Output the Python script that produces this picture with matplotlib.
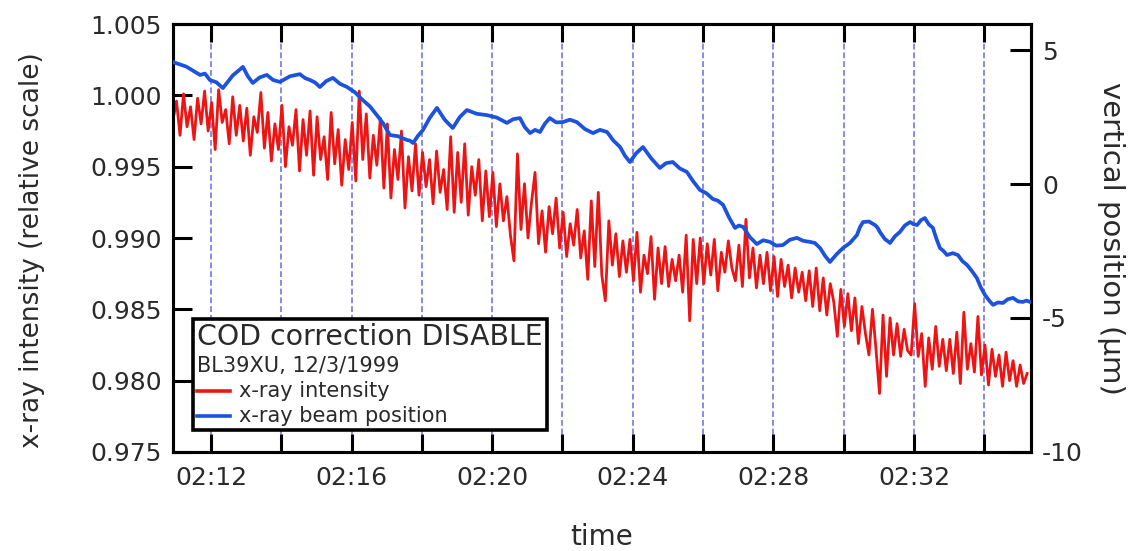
import numpy as np
import matplotlib
matplotlib.use("Agg")
import matplotlib.pyplot as plt
from matplotlib.lines import Line2D
from matplotlib.offsetbox import AnchoredOffsetbox, VPacker, HPacker, TextArea, DrawingArea

plt.rcParams['font.family'] = ['DejaVu Sans']
plt.rcParams['axes.unicode_minus'] = False

# x-ray intensity, sampled every 0.1 min starting at 02:10.92
red_start_min = 10.92
red_step_min = 0.1
red_intensity = [
    0.9983, 0.9996, 0.9972, 1.0001, 0.9978, 0.9992, 0.9969, 0.9998, 0.9980, 1.0003,
    0.9975, 0.9995, 0.9962, 1.0004, 0.9981, 0.9990, 0.9966, 0.9999, 0.9972, 0.9993,
    0.9968, 0.9991, 0.9958, 0.9985, 0.9974, 1.0002, 0.9963, 0.9988, 0.9954, 0.9980,
    0.9962, 0.9993, 0.9950, 0.9978, 0.9965, 0.9990, 0.9947, 0.9983, 0.9958, 0.9989,
    0.9944, 0.9985, 0.9955, 0.9971, 0.9941, 0.9988, 0.9952, 0.9976, 0.9937, 0.9969,
    0.9948, 0.9981, 0.9940, 1.0003, 0.9955, 0.9987, 0.9942, 0.9972, 0.9951, 0.9984,
    0.9935, 0.9980, 0.9928, 0.9962, 0.9941, 0.9975, 0.9921, 0.9957, 0.9933, 0.9966,
    0.9930, 0.9960, 0.9936, 0.9955, 0.9924, 0.9961, 0.9932, 0.9948, 0.9920, 0.9971,
    0.9918, 0.9960, 0.9925, 0.9966, 0.9916, 0.9950, 0.9930, 0.9955, 0.9912, 0.9947,
    0.9915, 0.9946, 0.9908, 0.9938, 0.9912, 0.9929, 0.9902, 0.9884, 0.9959, 0.9906,
    0.9938, 0.9900, 0.9925, 0.9946, 0.9896, 0.9919, 0.9890, 0.9922, 0.9903, 0.9928,
    0.9893, 0.9918, 0.9887, 0.9910, 0.9895, 0.9920, 0.9886, 0.9905, 0.9871, 0.9926,
    0.9880, 0.9932, 0.9874, 0.9856, 0.9912, 0.9881, 0.9903, 0.9873, 0.9898, 0.9876,
    0.9899, 0.9870, 0.9904, 0.9862, 0.9888, 0.9875, 0.9901, 0.9857, 0.9893, 0.9868,
    0.9894, 0.9866, 0.9885, 0.9870, 0.9888, 0.9862, 0.9902, 0.9842, 0.9899, 0.9868,
    0.9900, 0.9868, 0.9896, 0.9874, 0.9899, 0.9863, 0.9890, 0.9876, 0.9898, 0.9879,
    0.9870, 0.9895, 0.9866, 0.9913, 0.9872, 0.9893, 0.9865, 0.9888, 0.9868, 0.9890,
    0.9863, 0.9887, 0.9859, 0.9885, 0.9866, 0.9881, 0.9858, 0.9879, 0.9862, 0.9876,
    0.9856, 0.9877, 0.9852, 0.9879, 0.9849, 0.9872, 0.9846, 0.9868, 0.9855, 0.9831,
    0.9864, 0.9838, 0.9861, 0.9835, 0.9858, 0.9826, 0.9852, 0.9833, 0.9818, 0.9850,
    0.9822, 0.9791, 0.9846, 0.9803, 0.9844, 0.9818, 0.9840, 0.9817, 0.9836, 0.9821,
    0.9818, 0.9854, 0.9817, 0.9833, 0.9796, 0.9830, 0.9808, 0.9838, 0.9810, 0.9829,
    0.9807, 0.9829, 0.9805, 0.9834, 0.9798, 0.9848, 0.9808, 0.9826, 0.9806, 0.9845,
    0.9804, 0.9825, 0.9797, 0.9822, 0.9803, 0.9818, 0.9796, 0.9820, 0.9800, 0.9814,
    0.9796, 0.9811, 0.9798, 0.9805,
]

# x-ray beam vertical position (um), minutes after 02:00
blue_minutes = [
    10.92, 11.30, 11.69, 11.83, 11.97, 12.15, 12.34, 12.62, 12.91, 13.05,
    13.19, 13.39, 13.59, 13.77, 13.96, 14.25, 14.53, 14.68, 14.82, 14.96,
    15.10, 15.28, 15.47, 15.67, 15.87, 16.10, 16.32, 16.52, 16.72, 16.90,
    17.09, 17.33, 17.58, 17.66, 17.75, 17.89, 18.03, 18.23, 18.43, 18.65,
    18.88, 19.08, 19.28, 19.56, 19.85, 20.13, 20.42, 20.60, 20.79, 20.93,
    21.08, 21.22, 21.36, 21.50, 21.64, 21.82, 22.01, 22.21, 22.41, 22.64,
    22.87, 23.07, 23.27, 23.45, 23.64, 23.78, 23.92, 24.10, 24.29, 24.53,
    24.77, 24.95, 25.14, 25.34, 25.54, 25.72, 25.91, 26.10, 26.28, 26.42,
    26.57, 26.74, 26.91, 27.02, 27.14, 27.33, 27.53, 27.71, 27.90, 28.08,
    28.27, 28.47, 28.67, 28.85, 29.04, 29.18, 29.33, 29.47, 29.61, 29.80,
    29.98, 30.18, 30.38, 30.46, 30.55, 30.72, 30.89, 30.96, 31.03, 31.17,
    31.32, 31.46, 31.60, 31.74, 31.89, 31.99, 32.09, 32.20, 32.31, 32.42,
    32.54, 32.64, 32.74, 32.84, 32.94, 33.10, 33.25, 33.38, 33.51, 33.65,
    33.79, 33.90, 34.02, 34.14, 34.25, 34.39, 34.53, 34.67, 34.82, 34.96,
    35.10, 35.20, 35.30,
]
blue_position = [
    4.55, 4.38, 4.07, 4.12, 3.88, 3.80, 3.58, 4.05, 4.37, 4.02,
    3.77, 3.98, 4.07, 3.88, 3.81, 4.02, 4.10, 3.95, 3.88, 3.79,
    3.62, 3.84, 3.96, 3.74, 3.62, 3.42, 3.13, 2.90, 2.57, 2.26,
    1.83, 1.78, 1.64, 1.62, 1.53, 1.80, 2.01, 2.48, 2.84, 2.40,
    2.09, 2.50, 2.76, 2.62, 2.57, 2.48, 2.28, 2.42, 2.46, 2.12,
    1.90, 2.02, 1.94, 2.25, 2.46, 2.30, 2.31, 2.40, 2.31, 2.05,
    1.90, 2.02, 1.94, 1.62, 1.38, 1.05, 0.82, 1.15, 1.38, 0.95,
    0.60, 0.78, 0.82, 0.58, 0.45, 0.10, -0.22, -0.35, -0.56, -0.62,
    -0.78, -1.25, -1.64, -1.55, -1.60, -1.98, -2.24, -2.10, -2.16, -2.30,
    -2.28, -2.08, -2.01, -2.12, -2.16, -2.20, -2.39, -2.68, -2.91, -2.62,
    -2.39, -2.20, -1.90, -1.62, -1.42, -1.40, -1.53, -1.62, -1.79, -2.05,
    -2.20, -1.95, -1.79, -1.55, -1.42, -1.50, -1.53, -1.35, -1.27, -1.50,
    -1.64, -2.05, -2.39, -2.50, -2.65, -2.58, -2.65, -2.88, -3.02, -3.25,
    -3.51, -3.85, -4.14, -4.35, -4.51, -4.42, -4.44, -4.30, -4.25, -4.38,
    -4.40, -4.35, -4.40,
]

xtick_minutes = [12, 14, 16, 18, 20, 22, 24, 26, 28, 30, 32, 34]
xtick_labels = ['02:12', '', '02:16', '', '02:20', '', '02:24', '', '02:28', '', '02:32', '']
left_ticks = [0.975, 0.980, 0.985, 0.990, 0.995, 1.000, 1.005]
right_ticks = [-10, -5, 0, 5]

red_color = '#ee1414'
blue_color = '#1c52dc'
text_color = '#2a2a2a'
grid_color = '#8a8ae6'

red_minutes = red_start_min + red_step_min * np.arange(len(red_intensity))

fig = plt.figure(figsize=(11.41, 5.51), dpi=100)
ax = fig.add_axes([0.1516, 0.1797, 0.752, 0.7767])
ax2 = ax.twinx()

ax.set_xlim(10.92, 35.33)
ax.set_ylim(0.975, 1.005)
ax2.set_ylim(-10, 5.97)

ax.set_xticks(xtick_minutes)
ax.set_xticklabels(xtick_labels)
ax.set_yticks(left_ticks)
ax.set_yticklabels([f'{v:.3f}' for v in left_ticks])
ax2.set_yticks(right_ticks)

ax.xaxis.grid(True, color=grid_color, linestyle=(0, (3, 1.5)), linewidth=1.4)
ax.set_axisbelow(True)

ax.plot(red_minutes, red_intensity, color=red_color, lw=2.0, zorder=3)
ax2.plot(blue_minutes, blue_position, color=blue_color, lw=2.7, zorder=3)

for a in (ax, ax2):
    for s in a.spines.values():
        s.set_linewidth(2.2)

ax.tick_params(axis='x', direction='in', length=13, width=2.2, top=True,
               labelsize=18, pad=10, labelcolor=text_color)
ax.tick_params(axis='y', direction='in', length=14, width=2.2, right=False,
               labelsize=18, pad=8, labelcolor=text_color)
ax2.tick_params(axis='y', direction='in', length=15, width=2.2,
                labelsize=18, pad=8, labelcolor=text_color)

ax.set_xlabel('time', fontsize=20, color=text_color, labelpad=24)
ax.set_ylabel('x-ray intensity (relative scale)', fontsize=19, color=text_color)
ax.yaxis.set_label_coords(-0.149, 0.472)
ax2.set_ylabel('vertical position (µm)', fontsize=21, color=text_color,
               rotation=-90, labelpad=10, va='bottom')

# legend box
def entry(color, label):
    da = DrawingArea(24, 10, 0, 0)
    da.add_artist(Line2D([0, 24], [5, 5], color=color, lw=2.6))
    ta = TextArea(label, textprops=dict(size=15, color=text_color))
    return HPacker(children=[da, ta], align='center', pad=0, sep=6)

box = VPacker(children=[
    TextArea('COD correction DISABLE', textprops=dict(size=20.4, color=text_color)),
    TextArea('BL39XU, 12/3/1999', textprops=dict(size=15, color=text_color)),
    entry(red_color, 'x-ray intensity'),
    entry(blue_color, 'x-ray beam position'),
], align='left', pad=0, sep=3.5)
leg = AnchoredOffsetbox(loc='lower left', child=box, pad=0.3, borderpad=0,
                        bbox_to_anchor=(0.0233, 0.051), bbox_transform=ax.transAxes,
                        frameon=True)
leg.patch.set_boxstyle('square', pad=0)
leg.patch.set_edgecolor('black')
leg.patch.set_linewidth(2.6)
leg.patch.set_facecolor('white')
leg.set_zorder(10)
ax2.add_artist(leg)

fig.savefig('out.png', dpi=100)
